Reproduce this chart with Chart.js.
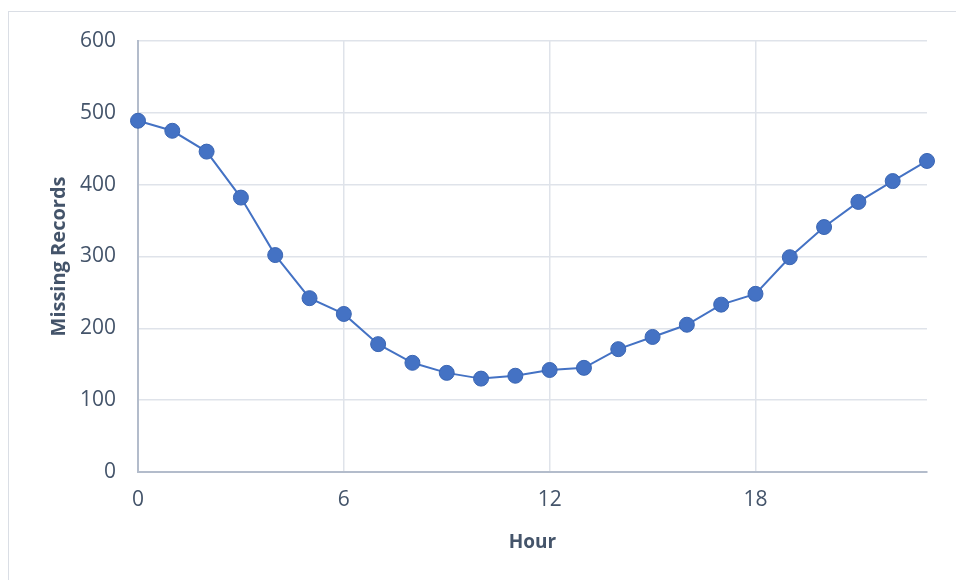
<!DOCTYPE html>
<html>
<head>
<meta charset="utf-8">
<script src="https://cdn.jsdelivr.net/npm/chart.js@4"></script>
<style>
  html, body { margin: 0; padding: 0; background: #fff; }
  #wrap { position: relative; width: 956px; height: 580px; }
  #frame { position: absolute; left: 8px; top: 11px; width: 960px; height: 580px; border: 1px solid #dadee5; }
  #c { position: absolute; left: 0; top: 0; }
</style>
</head>
<body>
<div id="wrap">
  <div id="frame"></div>
  <canvas id="c" width="956" height="580"></canvas>
</div>
<script>
var hours = [0, 1, 2, 3, 4, 5, 6, 7, 8, 9, 10, 11, 12, 13, 14, 15, 16, 17, 18, 19, 20, 21, 22, 23];
var missing = [489, 475, 446, 382, 302, 242, 220, 178, 152, 138, 130, 134, 142, 145, 171, 188, 205, 233, 248, 299, 341, 376, 405, 433];
var xTicks = [0, 6, 12, 18];
var yTicks = [0, 100, 200, 300, 400, 500, 600];

var points = hours.map(function (h, i) { return { x: h, y: missing[i] }; });

var textColor = '#44546A';
var gridColor = '#dfe3ea';
var axisColor = '#b3bccb';

var ctx = document.getElementById('c').getContext('2d');

var chart = new Chart(ctx, {
  type: 'line',
  data: {
    datasets: [{
      data: points,
      borderColor: '#4472C4',
      borderWidth: 2,
      backgroundColor: '#4472C4',
      pointRadius: 7.5,
      pointBorderColor: '#3b66b3',
      pointBorderWidth: 1,
      pointHoverRadius: 7.5,
      tension: 0,
      clip: false
    }]
  },
  options: {
    responsive: false,
    animation: false,
    events: [],
    layout: { padding: { left: 0, top: 41, right: 29, bottom: 0 } },
    plugins: {
      legend: { display: false },
      tooltip: { enabled: false }
    },
    scales: {
      x: {
        type: 'linear',
        min: 0,
        max: 23,
        afterFit: function (s) { s.height = 108; },
        afterBuildTicks: function (s) { s.ticks = xTicks.map(function (v) { return { value: v }; }); },
        ticks: {
          includeBounds: false,
          padding: 15,
          color: textColor,
          font: { family: 'Open Sans', size: 21 }
        },
        grid: { color: gridColor, lineWidth: 1.5, drawTicks: false },
        border: { color: axisColor, width: 2 },
        title: {
          display: true,
          text: 'Hour',
          color: textColor,
          font: { family: 'Open Sans', size: 19, weight: 'bold' },
          padding: { top: 0, bottom: 26 }
        }
      },
      y: {
        min: 0,
        max: 600,
        afterFit: function (s) { s.width = 138; },
        afterBuildTicks: function (s) { s.ticks = yTicks.map(function (v) { return { value: v }; }); },
        ticks: {
          padding: 22,
          color: textColor,
          font: { family: 'Open Sans', size: 21 }
        },
        grid: { color: gridColor, lineWidth: 1.5, drawTicks: false },
        border: { color: axisColor, width: 2 },
        title: {
          display: true,
          text: 'Missing Records',
          color: textColor,
          font: { family: 'Open Sans', size: 20, weight: 'bold' },
          padding: { top: 47, bottom: 0 }
        }
      }
    }
  }
});
</script>
</body>
</html>
